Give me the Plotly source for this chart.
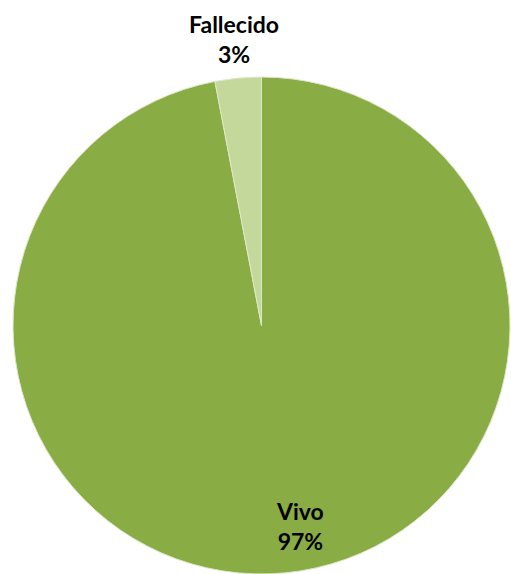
import math
import plotly.graph_objects as go

labels = ["Vivo", "Fallecido"]
values = [97, 3]
colors = ["#8AAC44", "#C4D89C"]

W, H = 511, 574
dom_x = [12 / W, 1.0]
dom_y = [0.0, 1 - 77 / H]

fig = go.Figure(go.Pie(
    labels=labels,
    values=values,
    sort=False,
    direction="clockwise",
    rotation=0,
    marker=dict(colors=colors, line=dict(color="#DDE8C8", width=1)),
    textinfo="none",
    hoverinfo="label+percent",
    showlegend=False,
    domain=dict(x=dom_x, y=dom_y),
))

# label placement derived from pie geometry and slice values
cx = (dom_x[0] + dom_x[1]) / 2 * W
cy_top = H - (dom_y[0] + dom_y[1]) / 2 * H  # pixel from top
r = min((dom_x[1] - dom_x[0]) * W, (dom_y[1] - dom_y[0]) * H) / 2
total = sum(values)
start = 0.0
label_r = [0.82, 1.16]
angle_shift = [-5.5, 0.0]
font = dict(family="Lato", size=23, color="#000000")
for i, (lab, v) in enumerate(zip(labels, values)):
    mid = start + v / total * 360 / 2 + angle_shift[i]
    start += v / total * 360
    a = math.radians(mid)
    px = cx + math.sin(a) * r * label_r[i]
    py = cy_top - math.cos(a) * r * label_r[i]
    fig.add_annotation(
        x=px / W, y=1 - py / H, xref="paper", yref="paper",
        text=f"<b>{lab}</b><br><b>{round(v / total * 100)}%</b>",
        showarrow=False, font=font, align="center",
        xanchor="center", yanchor="middle",
    )

fig.update_layout(
    width=W, height=H,
    margin=dict(l=0, r=0, t=0, b=0),
    paper_bgcolor="white",
    plot_bgcolor="white",
)

fig.write_html(
    "out.html",
    config={"displayModeBar": False},
    post_script="document.body.style.margin='0';document.body.style.overflow='hidden';",
)
